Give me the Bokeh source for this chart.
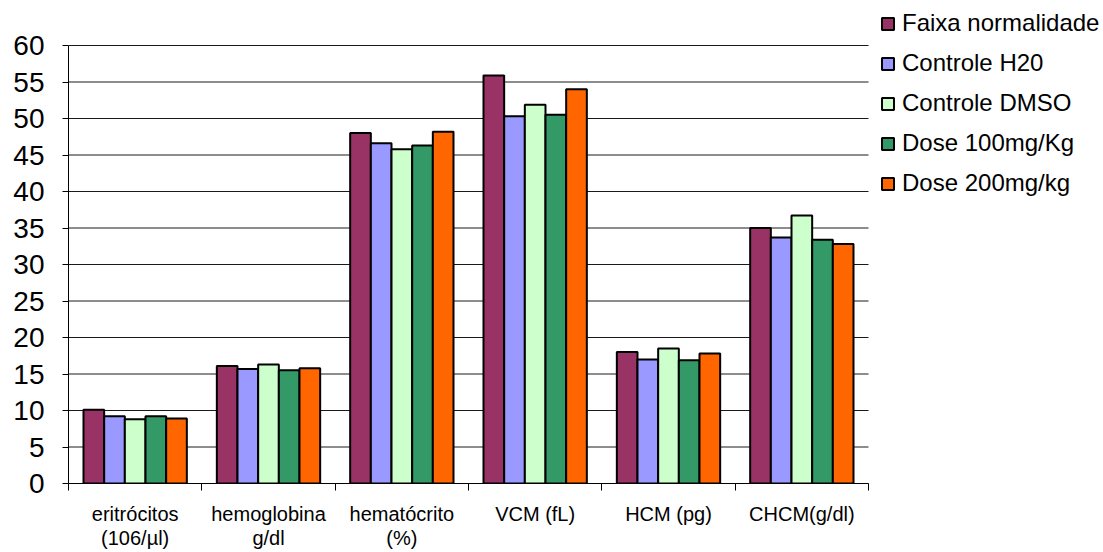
import numpy as np
from bokeh.plotting import figure
from bokeh.models import (Range1d, LinearAxis, FixedTicker, ColumnDataSource,
                          Legend, LegendItem)
from bokeh.transform import dodge
from bokeh.embed import file_html
from bokeh.resources import INLINE

# Hematological parameters (x categories) and their two-line axis labels
categories = ["eritrócitos\n(106/µl)", "hemoglobina\ng/dl", "hematócrito\n(%)",
              "VCM (fL)", "HCM (pg)", "CHCM(g/dl)"]

# Group values
series_names = ["Faixa normalidade", "Controle H20", "Controle DMSO",
                "Dose 100mg/Kg", "Dose 200mg/kg"]
faixa_normalidade = [10.1, 16.1, 48.0, 55.9, 18.0, 35.0]
controle_h20 = [9.2, 15.7, 46.6, 50.3, 17.0, 33.7]
controle_dmso = [8.8, 16.3, 45.8, 51.9, 18.5, 36.7]
dose_100 = [9.2, 15.5, 46.3, 50.5, 16.9, 33.4]
dose_200 = [8.9, 15.8, 48.2, 54.0, 17.8, 32.8]

y_ticks = list(range(0, 61, 5))
Y_MAX = 60

colors = ["#993366", "#9999FF", "#CCFFCC", "#339966", "#FF6600"]
FONT = "Liberation Sans"

# page geometry: the plotting frame spans the whole area right of the y axis,
# the bar area occupies its lower-left part and the legend sits to its right
W, H = 1103, 552
LEFT, BOTTOM = 68, 69
BAR_AREA_W, BAR_AREA_H = 800, 438
frame_w, frame_h = W - LEFT, H - BOTTOM

n_cat = len(categories)
centers = (np.arange(n_cat) + 0.5).tolist()
source = ColumnDataSource(data=dict(
    x=centers,
    s0=faixa_normalidade, s1=controle_h20, s2=controle_dmso, s3=dose_100, s4=dose_200,
))

p = figure(
    width=W, height=H,
    x_range=Range1d(0, n_cat * frame_w / BAR_AREA_W),
    y_range=Range1d(0, Y_MAX * frame_h / BAR_AREA_H),
    x_axis_location=None,
    output_backend="svg", toolbar_location=None,
    min_border_left=LEFT, min_border_right=0, min_border_top=0, min_border_bottom=BOTTOM,
)
p.outline_line_color = None
p.background_fill_color = "white"
p.border_fill_color = "white"
p.xgrid.visible = False
p.ygrid.visible = False

# horizontal grid lines across the bar area
p.segment(x0=0, x1=n_cat, y0=y_ticks, y1=y_ticks, line_color="#1a1a1a", line_width=1)

bar_w = 0.155
offsets = [-2 * bar_w, -bar_w, 0.0, bar_w, 2 * bar_w]
renderers = []
for i, (name, col) in enumerate(zip(series_names, colors)):
    r = p.vbar(x=dodge("x", offsets[i]), top="s%d" % i,
               width=bar_w, source=source, fill_color=col,
               line_color="black", line_width=2)
    renderers.append(r)

# y axis
yax = p.yaxis[0]
yax.bounds = (0, Y_MAX)
yax.ticker = FixedTicker(ticks=y_ticks)
yax.major_label_text_font = FONT
yax.major_label_text_font_size = "28px"
yax.major_label_text_color = "black"
yax.major_tick_out = 6
yax.major_tick_in = 0
yax.minor_tick_line_color = None
yax.axis_line_color = "black"
yax.major_tick_line_color = "black"
yax.major_label_standoff = 18

# x axis: tick marks at category boundaries ...
edge_axis = LinearAxis(
    bounds=(0, n_cat),
    ticker=FixedTicker(ticks=list(range(n_cat + 1))),
    major_label_text_font_size="1px",
    major_label_text_color=None,
    major_label_standoff=0,
    major_tick_out=7, major_tick_in=0,
    minor_tick_line_color=None,
    axis_line_color="black", major_tick_line_color="black",
)
p.add_layout(edge_axis, "below")

# ... and category names centred under each group
label_axis = LinearAxis(
    ticker=FixedTicker(ticks=centers),
    major_label_overrides={c: lab for c, lab in zip(centers, categories)},
    major_label_text_font=FONT,
    major_label_text_font_size="20px",
    major_label_text_color="black",
    major_label_text_line_height=1.12,
    major_label_standoff=6,
    major_tick_line_color=None,
    axis_line_color=None,
    minor_tick_line_color=None,
)
p.add_layout(label_axis, "below")

legend = Legend(
    items=[LegendItem(label=n, renderers=[r]) for n, r in zip(series_names, renderers)],
    location=(812, 286),
    orientation="vertical",
    glyph_width=15, glyph_height=15,
    label_height=28, spacing=12,
    label_standoff=7,
    padding=0, margin=0,
    label_text_font=FONT, label_text_font_size="24px", label_text_color="black",
    border_line_color=None, background_fill_alpha=0,
)
p.add_layout(legend, "center")

open("out.html", "w").write(file_html(p, INLINE))
